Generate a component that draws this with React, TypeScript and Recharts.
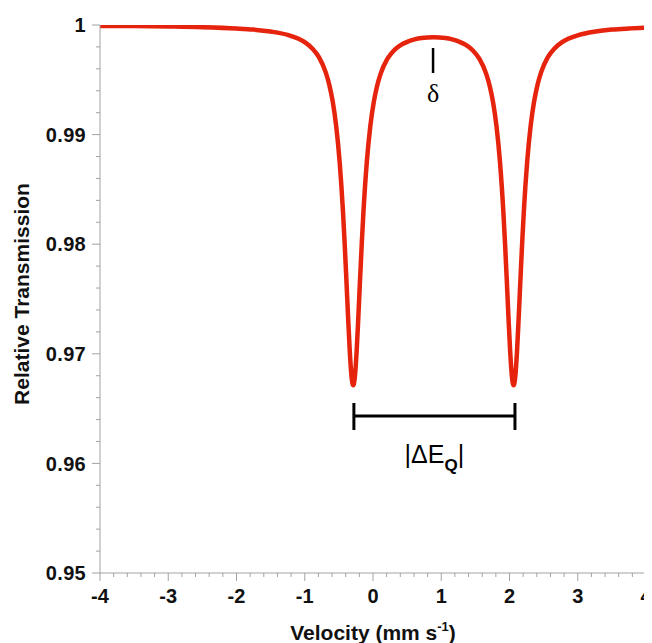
import { LineChart, Line, XAxis, YAxis, ReferenceLine, ReferenceDot } from "recharts";

// Mössbauer doublet
const velocity = [
  -4, -3.5, -3, -2.5, -2, -1.75, -1.5, -1.24, -1.09, -0.99, -0.89, -0.79, -0.69, -0.64, -0.59,
  -0.54, -0.49, -0.44, -0.415, -0.39, -0.365, -0.34, -0.315, -0.29, -0.265, -0.24, -0.215, -0.19,
  -0.165, -0.14, -0.09, -0.04, 0.01, 0.06, 0.11, 0.21, 0.31, 0.41, 0.51, 0.61, 0.71, 0.885, 1.06,
  1.16, 1.26, 1.36, 1.46, 1.56, 1.66, 1.71, 1.76, 1.81, 1.86, 1.91, 1.935, 1.96, 1.985, 2.01, 2.035,
  2.06, 2.085, 2.11, 2.135, 2.16, 2.185, 2.21, 2.26, 2.31, 2.36, 2.41, 2.46, 2.56, 2.66, 2.76, 2.86,
  3.01, 3.26, 3.5, 3.75, 4,
];
const transmission = [
  0.99992, 0.9999, 0.99986, 0.9998, 0.99968, 0.99958, 0.9994, 0.99908, 0.99874, 0.99839, 0.99786,
  0.99704, 0.99563, 0.99453, 0.993, 0.9908, 0.9876, 0.98299, 0.98004, 0.97676, 0.97335, 0.97021,
  0.96796, 0.96713, 0.96796, 0.9702, 0.97333, 0.97674, 0.98001, 0.98295, 0.98755, 0.99074, 0.99292,
  0.99444, 0.99552, 0.9969, 0.9977, 0.99819, 0.99849, 0.99869, 0.99881, 0.99888, 0.99881, 0.99869,
  0.99849, 0.99819, 0.9977, 0.9969, 0.99552, 0.99444, 0.99292, 0.99074, 0.98755, 0.98295, 0.98001,
  0.97674, 0.97333, 0.9702, 0.96796, 0.96713, 0.96796, 0.97021, 0.97335, 0.97676, 0.98004, 0.98299,
  0.9876, 0.9908, 0.993, 0.99453, 0.99563, 0.99704, 0.99786, 0.99839, 0.99874, 0.99908, 0.9994,
  0.99958, 0.99968, 0.99975,
];

const xMajor = [-4, -3, -2, -1, 0, 1, 2, 3, 4];
const xTicks = [
  -4, -3.8, -3.6, -3.4, -3.2, -3, -2.8, -2.6, -2.4, -2.2, -2, -1.8, -1.6, -1.4, -1.2, -1, -0.8, -0.6,
  -0.4, -0.2, 0, 0.2, 0.4, 0.6, 0.8, 1, 1.2, 1.4, 1.6, 1.8, 2, 2.2, 2.4, 2.6, 2.8, 3, 3.2, 3.4, 3.6,
  3.8, 4,
];
const yMajor = [0.95, 0.96, 0.97, 0.98, 0.99, 1];
const yTicks = [
  0.95, 0.952, 0.954, 0.956, 0.958, 0.96, 0.962, 0.964, 0.966, 0.968, 0.97, 0.972, 0.974, 0.976,
  0.978, 0.98, 0.982, 0.984, 0.986, 0.988, 0.99, 0.992, 0.994, 0.996, 0.998, 1,
];

// annotation anchors (data units)
const isomerShift = 0.88;
const deltaMark = [0.9979, 0.99562];
const deltaText = 0.99298;
const splitEnds = [-0.28, 2.08];
const splitY = 0.96433;
const splitCap = [0.96551, 0.96305];
const splitText = 0.96004;

const data = velocity.map((v, i) => ({ v, t: transmission[i] }));

const FONT = "'Liberation Sans', Arial, sans-serif";
const AXIS = "#a3a3a3";

const isIn = (list: number[], v: number) => list.some((m) => Math.abs(m - v) < 1e-6);

const XTick = (p: any) => {
  const major = isIn(xMajor, p.payload.value);
  return (
    <g>
      <line x1={p.x} x2={p.x} y1={p.y} y2={p.y + (major ? 8 : 4)} stroke={AXIS} strokeWidth={1} />
      {major && (
        <text x={p.x} y={p.y + 30} textAnchor="middle" fontFamily={FONT} fontWeight="bold" fontSize={20} fill="#111">
          {p.payload.value}
        </text>
      )}
    </g>
  );
};

const YTick = (p: any) => {
  const major = isIn(yMajor, p.payload.value);
  return (
    <g>
      <line x1={p.x - (major ? 8 : 4)} x2={p.x} y1={p.y} y2={p.y} stroke={AXIS} strokeWidth={1} />
      {major && (
        <text x={p.x - 14} y={p.y} dy="0.36em" textAnchor="end" fontFamily={FONT} fontWeight="bold" fontSize={20} letterSpacing={0.3} fill="#111">
          {p.payload.value}
        </text>
      )}
    </g>
  );
};

const XTitle = (p: any) => {
  const vb = p.viewBox;
  return (
    <text x={vb.x + vb.width / 2} y={vb.y + 67} textAnchor="middle" fontFamily={FONT} fontWeight="bold" fontSize={21} fill="#111">
      Velocity (mm s
      <tspan fontSize={13} dy={-9}>-1</tspan>
      <tspan dy={9}>)</tspan>
    </text>
  );
};

const YTitle = (p: any) => {
  const vb = p.viewBox;
  const cy = vb.y + vb.height / 2 - 5;
  return (
    <text x={21} y={cy} transform={`rotate(-90, 21, ${cy})`} textAnchor="middle" fontFamily={FONT} fontWeight="bold" fontSize={21} fill="#111">
      Relative Transmission
    </text>
  );
};

export default function App() {
  return (
    <div style={{ width: 644, height: 635 }}>
      <LineChart width={644} height={635} data={data} margin={{ top: 17, right: 6, left: 0, bottom: 0 }}>
        <XAxis
          dataKey="v"
          type="number"
          domain={[-4, 4]}
          ticks={xTicks}
          interval={0}
          height={70}
          tickSize={0}
          tickMargin={0}
          tickLine={false}
          tick={<XTick />}
          stroke={AXIS}
          label={XTitle}
        />
        <YAxis
          type="number"
          domain={[0.95, 1]}
          ticks={yTicks}
          interval={0}
          width={92}
          tickSize={0}
          tickMargin={0}
          tickLine={false}
          tick={<YTick />}
          stroke={AXIS}
          label={YTitle}
          allowDataOverflow
        />
        <Line
          dataKey="t"
          type="monotone"
          stroke="#e6230c"
          strokeWidth={4.5}
          dot={false}
          activeDot={false}
          isAnimationActive={false}
        />
        <ReferenceLine
          segment={[{ x: isomerShift, y: deltaMark[0] }, { x: isomerShift, y: deltaMark[1] }]}
          stroke="#000"
          strokeWidth={2.5}
        />
        <ReferenceDot
          x={isomerShift}
          y={deltaText}
          r={0}
          shape={(p: any) => (
            <text x={p.cx} y={p.cy} textAnchor="middle" fontFamily="'Liberation Serif', 'Times New Roman', serif" fontSize={26} fill="#000">
              δ
            </text>
          )}
        />
        <ReferenceLine
          segment={[{ x: splitEnds[0], y: splitY }, { x: splitEnds[1], y: splitY }]}
          stroke="#000"
          strokeWidth={3}
        />
        <ReferenceLine
          segment={[{ x: splitEnds[0], y: splitCap[0] }, { x: splitEnds[0], y: splitCap[1] }]}
          stroke="#000"
          strokeWidth={3}
        />
        <ReferenceLine
          segment={[{ x: splitEnds[1], y: splitCap[0] }, { x: splitEnds[1], y: splitCap[1] }]}
          stroke="#000"
          strokeWidth={3}
        />
        <ReferenceDot
          x={(splitEnds[0] + splitEnds[1]) / 2}
          y={splitText}
          r={0}
          shape={(p: any) => (
            <text x={p.cx} y={p.cy} textAnchor="middle" fontFamily={FONT} fontSize={25} fill="#000">
              |ΔE
              <tspan fontSize={17} fontWeight="bold" dy={8}>Q</tspan>
              <tspan dy={-8}>|</tspan>
            </text>
          )}
        />
      </LineChart>
    </div>
  );
}
